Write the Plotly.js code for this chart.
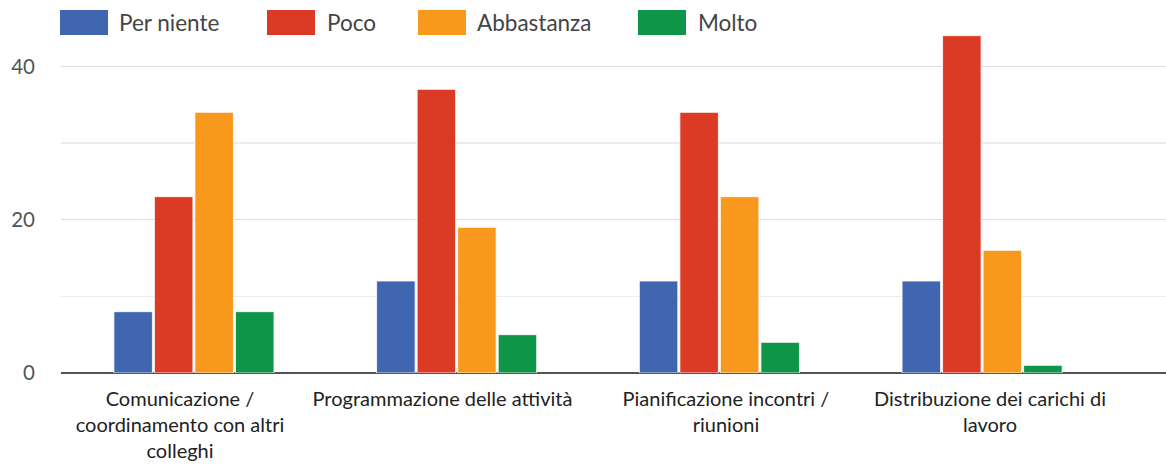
<!DOCTYPE html>
<html>
<head>
<meta charset="utf-8">
<script src="https://cdn.plot.ly/plotly-3.0.1.min.js"></script>
<style>html,body{margin:0;padding:0;background:#fff;}#chart{width:1166px;height:466px;}</style>
</head>
<body>
<div id="chart"></div>
<script>
const categories = [
  "Comunicazione /<br>coordinamento con altri<br>colleghi",
  "Programmazione delle attività",
  "Pianificazione incontri /<br>riunioni",
  "Distribuzione dei carichi di<br>lavoro"
];
const seriesNames = ["Per niente", "Poco", "Abbastanza", "Molto"];
const perNiente = [8, 12, 12, 12];
const poco = [23, 37, 34, 44];
const abbastanza = [34, 19, 23, 16];
const molto = [8, 5, 4, 1];
const colors = ["#4066b0", "#db3a25", "#f8991e", "#0e9547"];
const yTicks = [0, 20, 40];

const values = [perNiente, poco, abbastanza, molto];
const xIdx = categories.map((_, i) => i);

const traces = values.map((v, i) => ({
  type: "bar",
  name: seriesNames[i],
  x: xIdx,
  y: v,
  marker: {color: colors[i], line: {color: "#ffffff", width: 0.8}},
  showlegend: false,
  hoverinfo: "x+y+name"
}));

// page geometry
const W = 1166, H = 466;
const M = {l: 61, r: 0, t: 28, b: 93};
const pw = W - M.l - M.r, ph = H - M.t - M.b;
const px = x => (x - M.l) / pw;
const py = y => (H - M.b - y) / ph;

// label placement (the reference's labels sit slightly off the group centres)
const labelShift = [-0.053, -0.054, 0.025, 0.03];
const labelPos = xIdx.map((x, i) => x + labelShift[i]);

// legend drawn as swatches + labels
const legendSw = [60, 267, 418, 638];
const legendTx = [117, 325, 475, 696];
const shapes = [], annotations = [];
seriesNames.forEach((n, i) => {
  shapes.push({type: "rect", xref: "paper", yref: "paper",
    x0: px(legendSw[i]), x1: px(legendSw[i] + 48), y0: py(35), y1: py(10),
    fillcolor: colors[i], line: {width: 0}});
  annotations.push({xref: "paper", yref: "paper", x: px(legendTx[i]), y: py(23),
    xanchor: "left", yanchor: "middle", showarrow: false, text: n,
    font: {family: "Lato, 'Open Sans', sans-serif", size: 22.5, color: "#444444"}});
});

const layout = {
  width: W, height: H,
  margin: M,
  paper_bgcolor: "#ffffff", plot_bgcolor: "#ffffff",
  font: {family: "Lato, 'Open Sans', sans-serif", color: "#333333"},
  barmode: "group",
  bargap: 0.383,
  bargroupgap: 0.05,
  xaxis: {
    range: [-0.506, 3.70],
    tickmode: "array", tickvals: labelPos, ticktext: categories,
    tickfont: {size: 20, color: "#222222"},
    showgrid: false, zeroline: false,
    showline: false, ticks: "", ticklabelstandoff: 12,
    fixedrange: true
  },
  yaxis: {
    range: [0, 45],
    tickmode: "array", tickvals: yTicks, ticktext: yTicks.map(String),
    tickfont: {size: 20.5, color: "#555555"},
    showgrid: true, gridcolor: "#dddddd", gridwidth: 1.5,
    minor: {dtick: 10, tick0: 0, showgrid: true, gridcolor: "#ececec", gridwidth: 1.5},
    zeroline: true, zerolinecolor: "#555555", zerolinewidth: 2.5,
    showline: false, ticks: "", ticklabelstandoff: 25,
    fixedrange: true
  },
  shapes: shapes,
  annotations: annotations
};

Plotly.newPlot("chart", traces, layout, {displayModeBar: false, staticPlot: true});
</script>
</body>
</html>
